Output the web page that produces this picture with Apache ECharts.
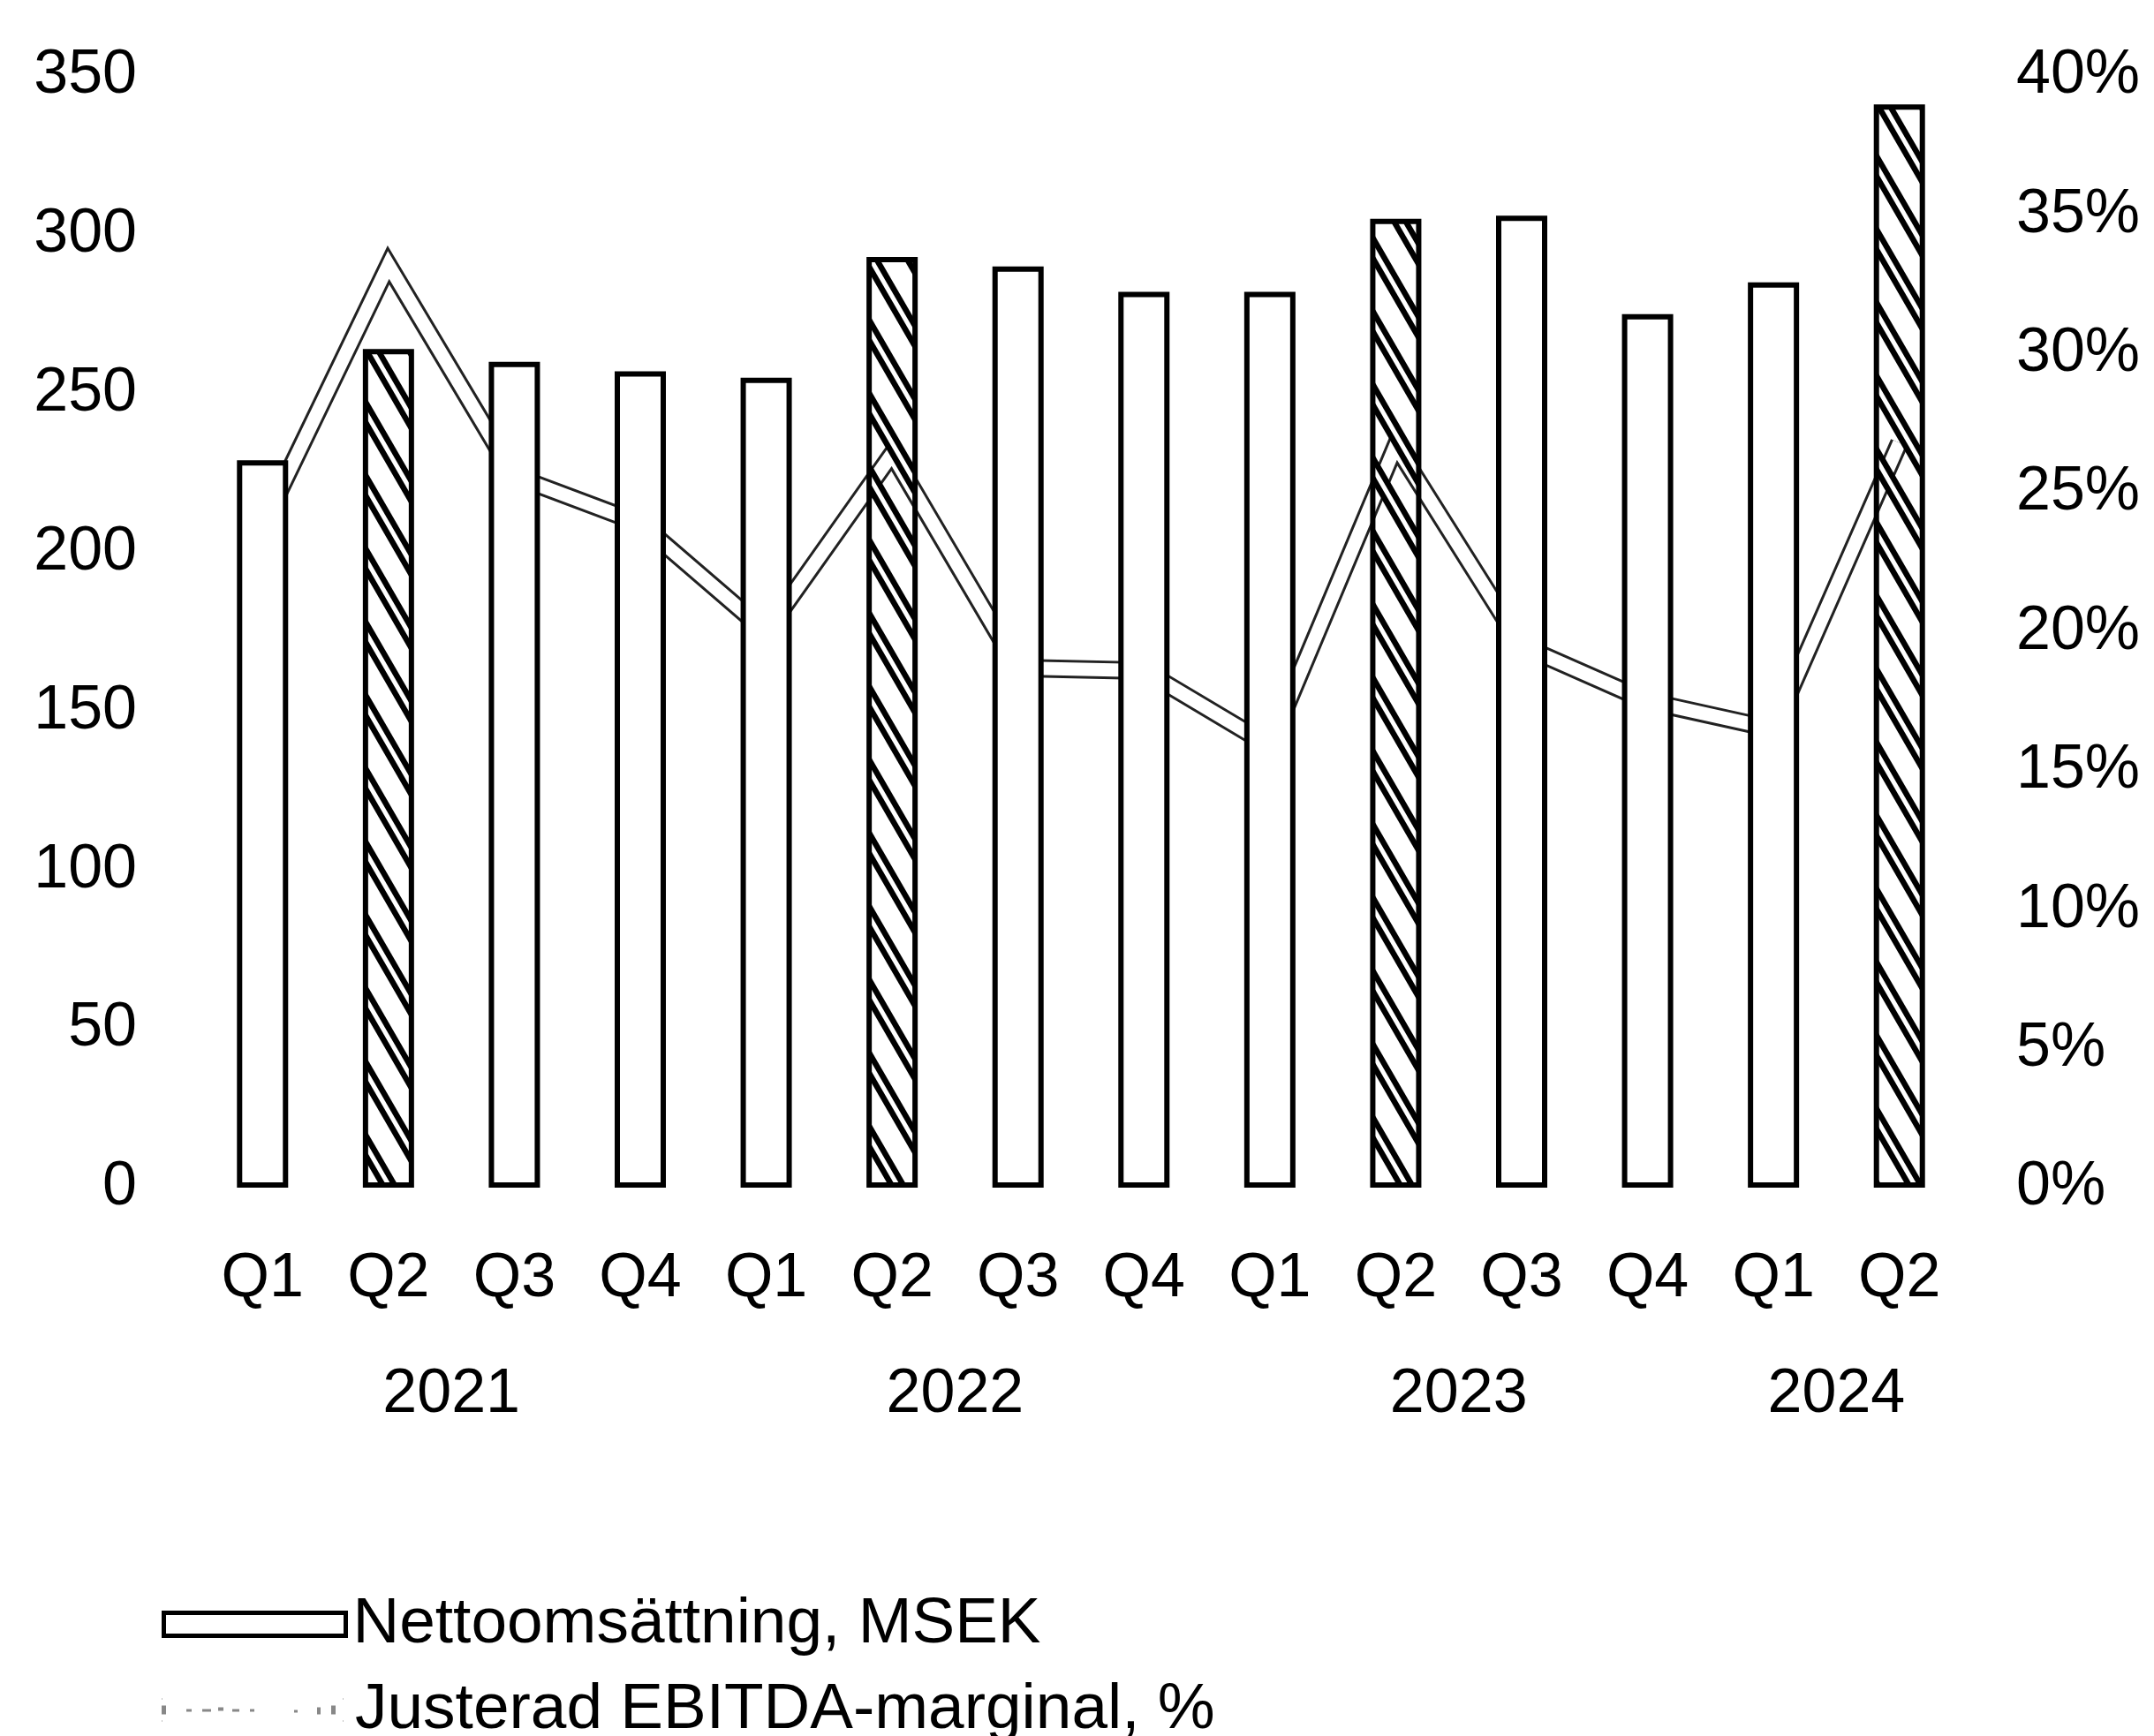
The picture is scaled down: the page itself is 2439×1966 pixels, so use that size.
<!DOCTYPE html>
<html>
<head>
<meta charset="utf-8">
<script src="https://cdn.jsdelivr.net/npm/echarts@6/dist/echarts.min.js"></script>
<style>
  html, body { margin: 0; padding: 0; background: #ffffff; }
  #chart { width: 2439px; height: 1966px; }
</style>
</head>
<body>
<div id="chart"></div>
<script>
// ---- data ----
const quarters = ['Q1','Q2','Q3','Q4','Q1','Q2','Q3','Q4','Q1','Q2','Q3','Q4','Q1','Q2'];
const years    = ['2021','2021','2021','2021','2022','2022','2022','2022','2023','2023','2023','2023','2024','2024'];
const netSales = [229, 264, 260, 257, 255, 293, 290, 282, 282, 305, 306, 275, 285, 341];          // MSEK
const ebitdaMargin = [23.8, 33.2, 25.6, 23.9, 20.0, 26.4, 18.7, 18.6, 15.9, 26.7, 19.5, 17.5, 16.5, 26.8]; // %
const leftAxis  = { min: 0, max: 350, step: 50 };
const rightAxis = { min: 0, max: 40, step: 5 };
const seriesNames = ['Nettoomsättning, MSEK', 'Justerad EBITDA-marginal, %'];
const highlightQuarter = 'Q2';

// ---- derived ----
const categories = quarters.map((q, i) => years[i] + ' ' + q);
const yearList = [...new Set(years)];
const yearCenters = yearList.map(y => {
  const idx = years.map((v, i) => v === y ? i : -1).filter(i => i >= 0);
  return idx.reduce((a, b) => a + b, 0) / idx.length;
});

// hatch pattern for highlighted bars
function makeHatch() {
  const w = 48, h = 83;
  const c = document.createElement('canvas');
  c.width = w; c.height = h;
  const ctx = c.getContext('2d');
  const draw = (width, color) => {
    ctx.strokeStyle = color; ctx.lineWidth = width;
    for (const dx of [-w, 0, w]) {
      ctx.beginPath();
      ctx.moveTo(dx - w / 2, -h / 2);
      ctx.lineTo(dx + w * 1.5, h * 1.5);
      ctx.stroke();
    }
  };
  draw(18, '#000');
  draw(5, '#fff');
  return c;
}
const hatch = { image: makeHatch(), repeat: 'repeat' };

const font = 'Liberation Sans, Arial, sans-serif';
const txt = { fontFamily: font, fontSize: 70, color: '#000', lineHeight: 70 };
const legendText = { fontFamily: font, fontSize: 73, color: '#000', lineHeight: 73, padding: [0, 0, 0, 3] };

const chart = echarts.init(document.getElementById('chart'), null, { renderer: 'canvas' });
chart.setOption({
  backgroundColor: '#ffffff',
  animation: false,
  grid: { left: 226, right: 217, top: 86, bottom: 621, containLabel: false },
  legend: [
    {
      orient: 'horizontal',
      left: 183,
      top: 1803,
      padding: 0,
      itemWidth: 206,
      itemHeight: 26,
      textStyle: legendText,
      data: [
        { name: seriesNames[0], icon: 'rect', itemStyle: { color: '#fff', borderColor: '#000', borderWidth: 5 } }
      ]
    },
    {
      orient: 'horizontal',
      left: 183,
      top: 1900,
      padding: 0,
      itemWidth: 206,
      itemHeight: 26,
      textStyle: Object.assign({}, legendText, { padding: [0, 0, 0, 8] }),
      data: [
        { name: seriesNames[1],
          icon: 'path://M0,8h5v10h-5z M28,12h6v3h-6z M46,12h10v3h-10z M64,10h6v4h-6z M80,12h8v3h-8z M100,12h5v3h-5z M150,13h4v3h-4z M176,10h4v8h-4z M192,8h5v10h-5z M0,0h1v1h-1z M205,0h1v1h-1z M0,25h1v1h-1z M205,25h1v1h-1z',
          itemStyle: { color: '#888' } }
      ]
    }
  ],
  xAxis: [
    {
      type: 'category',
      data: categories,
      boundaryGap: true,
      axisLine: { show: false },
      axisTick: { show: false },
      splitLine: { show: false },
      axisLabel: Object.assign({}, txt, {
        interval: 0, margin: 69,
        formatter: (v) => v.split(' ')[1]
      })
    },
    {
      type: 'value',
      position: 'bottom',
      min: -0.5,
      max: categories.length - 0.5,
      axisLine: { show: false },
      axisTick: { show: false },
      splitLine: { show: false },
      axisLabel: Object.assign({}, txt, {
        margin: 200,
        customValues: yearCenters,
        formatter: (v) => {
          const k = yearCenters.findIndex(c => Math.abs(c - v) < 1e-6);
          return k >= 0 ? yearList[k] : '';
        }
      })
    }
  ],
  yAxis: [
    {
      type: 'value',
      min: leftAxis.min, max: leftAxis.max, interval: leftAxis.step,
      axisLine: { show: false },
      axisTick: { show: false },
      splitLine: { show: false },
      axisLabel: Object.assign({}, txt, { margin: 71, padding: [12, 0, 0, 0] })
    },
    {
      type: 'value',
      position: 'right',
      min: rightAxis.min, max: rightAxis.max, interval: rightAxis.step,
      axisLine: { show: false },
      axisTick: { show: false },
      splitLine: { show: false },
      axisLabel: Object.assign({}, txt, { margin: 61, padding: [12, 0, 0, 0], formatter: '{value}%' })
    }
  ],
  series: [
    {
      name: seriesNames[1],
      type: 'line',
      xAxisIndex: 0,
      yAxisIndex: 1,
      data: ebitdaMargin,
      symbol: 'none',
      z: 1,
      itemStyle: { color: '#222' },
      lineStyle: { color: '#222', width: 21, join: 'miter', miterLimit: 10 },
      silent: true
    },
    {
      name: 'inner',
      type: 'line',
      xAxisIndex: 0,
      yAxisIndex: 1,
      data: ebitdaMargin,
      symbol: 'none',
      z: 1,
      lineStyle: { color: '#fff', width: 15, join: 'miter', miterLimit: 10 },
      silent: true
    },
    {
      name: seriesNames[0],
      type: 'bar',
      xAxisIndex: 0,
      yAxisIndex: 0,
      barWidth: 58,
      z: 2,
      itemStyle: { color: '#fff', borderColor: '#000', borderWidth: 6 },
      data: netSales.map((v, i) => quarters[i] === highlightQuarter
        ? { value: v, itemStyle: { color: hatch, borderColor: '#000', borderWidth: 6 } }
        : v)
    }
  ]
});
</script>
</body>
</html>
